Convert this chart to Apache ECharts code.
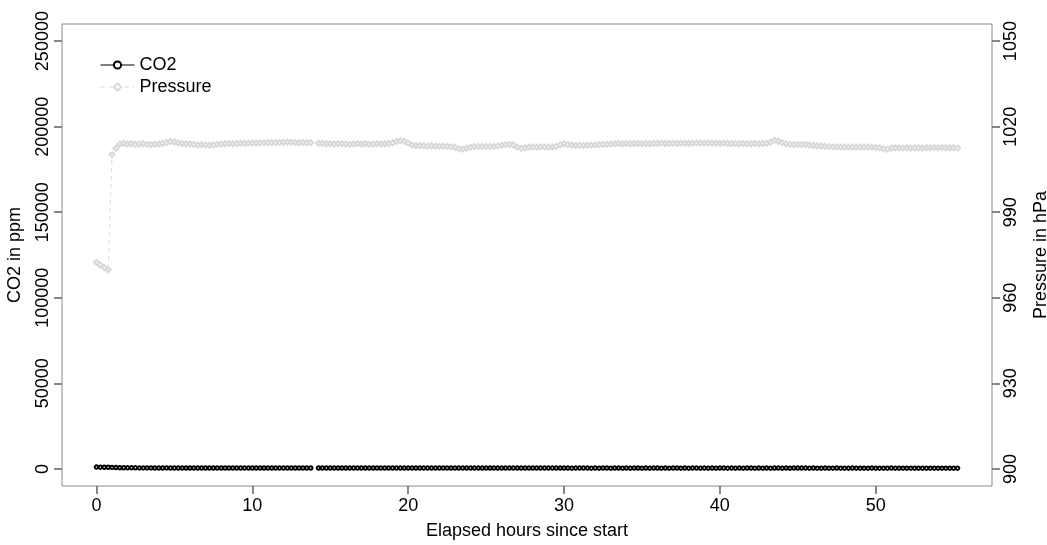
<!DOCTYPE html>
<html><head><meta charset="utf-8">
<script src="https://cdn.jsdelivr.net/npm/echarts@6/dist/echarts.min.js"></script>
<style>html,body{margin:0;padding:0;background:#fff}#c{width:1047px;height:545px}</style>
</head><body><div id="c"></div>
<script>
// Sampling interval of the logger, in hours (one reading every 15 minutes)
const HOUR_STEP = 0.25;

// CO2 readings in ppm (one row per hour)
const co2 = [
  1050, 1020, 990, 960,
  880, 760, 690, 650,
  620, 600, 610, 590,
  580, 570, 590, 560,
  560, 550, 570, 540,
  550, 540, 530, 550,
  540, 520, 530, 540,
  520, 530, 510, 520,
  530, 510, 520, 500,
  510, 500, 520, 510,
  500, 510, 490, 500,
  510, 490, 500, 490,
  500, 480, 490, 500,
  490, 480, 500, 490,
  null, 500, 490, 480,
  490, 480, 470, 490,
  480, 470, 490, 480,
  470, 480, 490, 470,
  480, 470, 460, 480,
  470, 480, 470, 460,
  470, 460, 480, 470,
  460, 470, 460, 470,
  480, 460, 470, 460,
  470, 460, 450, 470,
  460, 470, 460, 450,
  460, 450, 470, 460,
  450, 460, 470, 450,
  460, 450, 460, 470,
  450, 460, 450, 460,
  470, 450, 460, 450,
  460, 450, 440, 460,
  450, 460, 450, 440,
  450, 440, 460, 450,
  440, 450, 460, 440,
  450, 440, 450, 460,
  440, 450, 440, 450,
  460, 440, 450, 440,
  450, 460, 440, 450,
  440, 450, 460, 440,
  450, 440, 450, 440,
  460, 450, 440, 450,
  440, 450, 440, 460,
  450, 440, 450, 440,
  450, 440, 460, 450,
  440, 450, 440, 450,
  460, 470, 450, 440,
  450, 440, 430, 450,
  440, 430, 450, 440,
  430, 440, 450, 430,
  440, 430, 440, 450,
  430, 440, 430, 440,
  450, 430, 440, 430,
  440, 430, 420, 440,
  430, 440, 430, 420,
  430, 420, 440, 430,
  420, 430, 440, 420,
  430, 420
];

// Air pressure readings in hPa (one row per hour)
const pressure = [
  972.4, 971.5, 970.6, 969.8,
  1010.2, 1012.4, 1013.9, 1014.1,
  1013.9, 1014.0, 1013.8, 1013.9,
  1014.0, 1013.8, 1013.7, 1013.9,
  1013.9, 1014.1, 1014.4, 1014.8,
  1014.6, 1014.3, 1014.1, 1014.0,
  1013.9, 1013.8, 1013.6, 1013.7,
  1013.6, 1013.5, 1013.6, 1013.8,
  1013.9, 1014.0, 1014.1, 1014.0,
  1014.1, 1014.2, 1014.1, 1014.2,
  1014.3, 1014.2, 1014.3, 1014.4,
  1014.4, 1014.5, 1014.4, 1014.5,
  1014.5, 1014.6, 1014.5, 1014.5,
  1014.4, 1014.5, 1014.3, 1014.4,
  null, 1014.2, 1014.1, 1014.0,
  1014.0, 1013.9, 1014.0, 1014.0,
  1013.9, 1013.8, 1013.9, 1014.0,
  1013.9, 1014.0, 1013.8, 1013.9,
  1014.0, 1013.9, 1014.0, 1014.1,
  1014.3, 1014.8, 1015.1, 1014.9,
  1014.2, 1013.6, 1013.4, 1013.3,
  1013.3, 1013.2, 1013.3, 1013.2,
  1013.1, 1013.2, 1013.1, 1013.0,
  1012.7, 1012.3, 1012.1, 1012.5,
  1012.8, 1013.0, 1013.1, 1013.0,
  1013.1, 1013.0, 1013.1, 1013.2,
  1013.5, 1013.7, 1013.8, 1013.6,
  1012.8, 1012.4, 1012.6, 1012.8,
  1012.9, 1012.8, 1012.9, 1012.9,
  1012.8, 1012.9, 1013.1, 1013.6,
  1014.0, 1013.8, 1013.5, 1013.4,
  1013.5, 1013.4, 1013.5, 1013.5,
  1013.6, 1013.7, 1013.8, 1013.8,
  1013.9, 1014.0, 1014.1, 1014.0,
  1014.1, 1014.0, 1014.1, 1014.1,
  1014.0, 1014.1, 1014.0, 1014.1,
  1014.1, 1014.2, 1014.1, 1014.1,
  1014.2, 1014.1, 1014.2, 1014.2,
  1014.1, 1014.2, 1014.2, 1014.3,
  1014.2, 1014.3, 1014.2, 1014.2,
  1014.1, 1014.2, 1014.1, 1014.0,
  1014.1, 1014.0, 1014.1, 1014.0,
  1014.0, 1014.1, 1014.0, 1014.1,
  1014.2, 1014.6, 1015.2, 1014.9,
  1014.4, 1014.0, 1013.8, 1013.7,
  1013.8, 1013.7, 1013.8, 1013.6,
  1013.4, 1013.3, 1013.2, 1013.1,
  1013.0, 1012.9, 1012.9, 1012.8,
  1012.9, 1012.8, 1012.9, 1012.8,
  1012.8, 1012.9, 1012.8, 1012.8,
  1012.7, 1012.6, 1012.2, 1012.1,
  1012.5, 1012.6, 1012.6, 1012.5,
  1012.6, 1012.5, 1012.6, 1012.6,
  1012.5, 1012.6, 1012.6, 1012.7,
  1012.6, 1012.7, 1012.6, 1012.6,
  1012.6, 1012.5
];

const hourTicks = [0, 10, 20, 30, 40, 50];
const co2Ticks = [0, 50000, 100000, 150000, 200000, 250000];
const pressureTicks = [900, 930, 960, 990, 1020, 1050];

const hours = pressure.map((_, i) => i * HOUR_STEP);
const co2Data = co2.map((v, i) => [hours[i], v]);
const pressureData = pressure.map((v, i) => [hours[i], v]);

const FONT = "'Liberation Sans', Arial, sans-serif";
const BOX = '#8a8a8a';
const TICK = '#6a6a6a';
const plain = v => String(v);

const axisLine = {show: false, onZero: false};
const tick = vals => ({show: true, inside: false, length: 8, customValues: vals, lineStyle: {color: TICK, width: 1.6}});

const chart = echarts.init(document.getElementById('c'), null, {renderer: 'canvas'});
chart.setOption({
  animation: false,
  textStyle: {fontFamily: FONT},
  grid: {left: 62, right: 55, top: 24, bottom: 59, containLabel: false, outerBoundsMode: 'none',
         show: true, borderColor: BOX, borderWidth: 1, backgroundColor: 'transparent'},
  legend: {
    left: 95, top: 51, orient: 'vertical', itemWidth: 34, itemHeight: 9, itemGap: 4,
    textStyle: {fontFamily: FONT, fontSize: 18, color: '#000'},
    lineStyle: {width: 1},
    itemStyle: {borderWidth: 1},
    data: ['CO2', 'Pressure']
  },
  xAxis: {
    type: 'value', min: -2.21, max: 57.46,
    name: 'Elapsed hours since start', nameLocation: 'middle', nameGap: 36,
    nameTextStyle: {fontFamily: FONT, fontSize: 18, color: '#000'},
    axisLine: axisLine,
    axisTick: tick(hourTicks),
    axisLabel: {customValues: hourTicks, formatter: plain, margin: 11, fontFamily: FONT, fontSize: 18, color: '#000'},
    splitLine: {show: false}
  },
  yAxis: [{
    type: 'value', min: -10000, max: 260000, position: 'left',
    name: 'CO2 in ppm', nameLocation: 'middle', nameGap: 38, nameRotate: 90,
    nameTextStyle: {fontFamily: FONT, fontSize: 18, color: '#000'},
    axisLine: axisLine,
    axisTick: tick(co2Ticks),
    axisLabel: {customValues: co2Ticks, formatter: plain, rotate: 90, margin: 10, fontFamily: FONT, fontSize: 18, color: '#000'},
    splitLine: {show: false}
  }, {
    type: 'value', min: 894, max: 1056, position: 'right',
    name: 'Pressure in hPa', nameLocation: 'middle', nameGap: 40, nameRotate: 90,
    nameTextStyle: {fontFamily: FONT, fontSize: 18, color: '#000'},
    axisLine: axisLine,
    axisTick: tick(pressureTicks),
    axisLabel: {customValues: pressureTicks, formatter: plain, rotate: 90, margin: 10, fontFamily: FONT, fontSize: 18, color: '#000'},
    splitLine: {show: false}
  }],
  series: [{
    name: 'CO2', type: 'line', yAxisIndex: 0, data: co2Data,
    symbol: 'emptyCircle', symbolSize: 3.5, showAllSymbol: true, connectNulls: false,
    lineStyle: {color: '#000', width: 1}, itemStyle: {color: '#000', borderWidth: 1}
  }, {
    name: 'Pressure', type: 'line', yAxisIndex: 1, data: pressureData,
    symbol: 'emptyDiamond', symbolSize: 5, showAllSymbol: true, connectNulls: false,
    lineStyle: {color: '#d8d8d8', width: 1, type: [4, 4]}, itemStyle: {color: '#d8d8d8', borderWidth: 1}
  }]
});
</script>
</body></html>
